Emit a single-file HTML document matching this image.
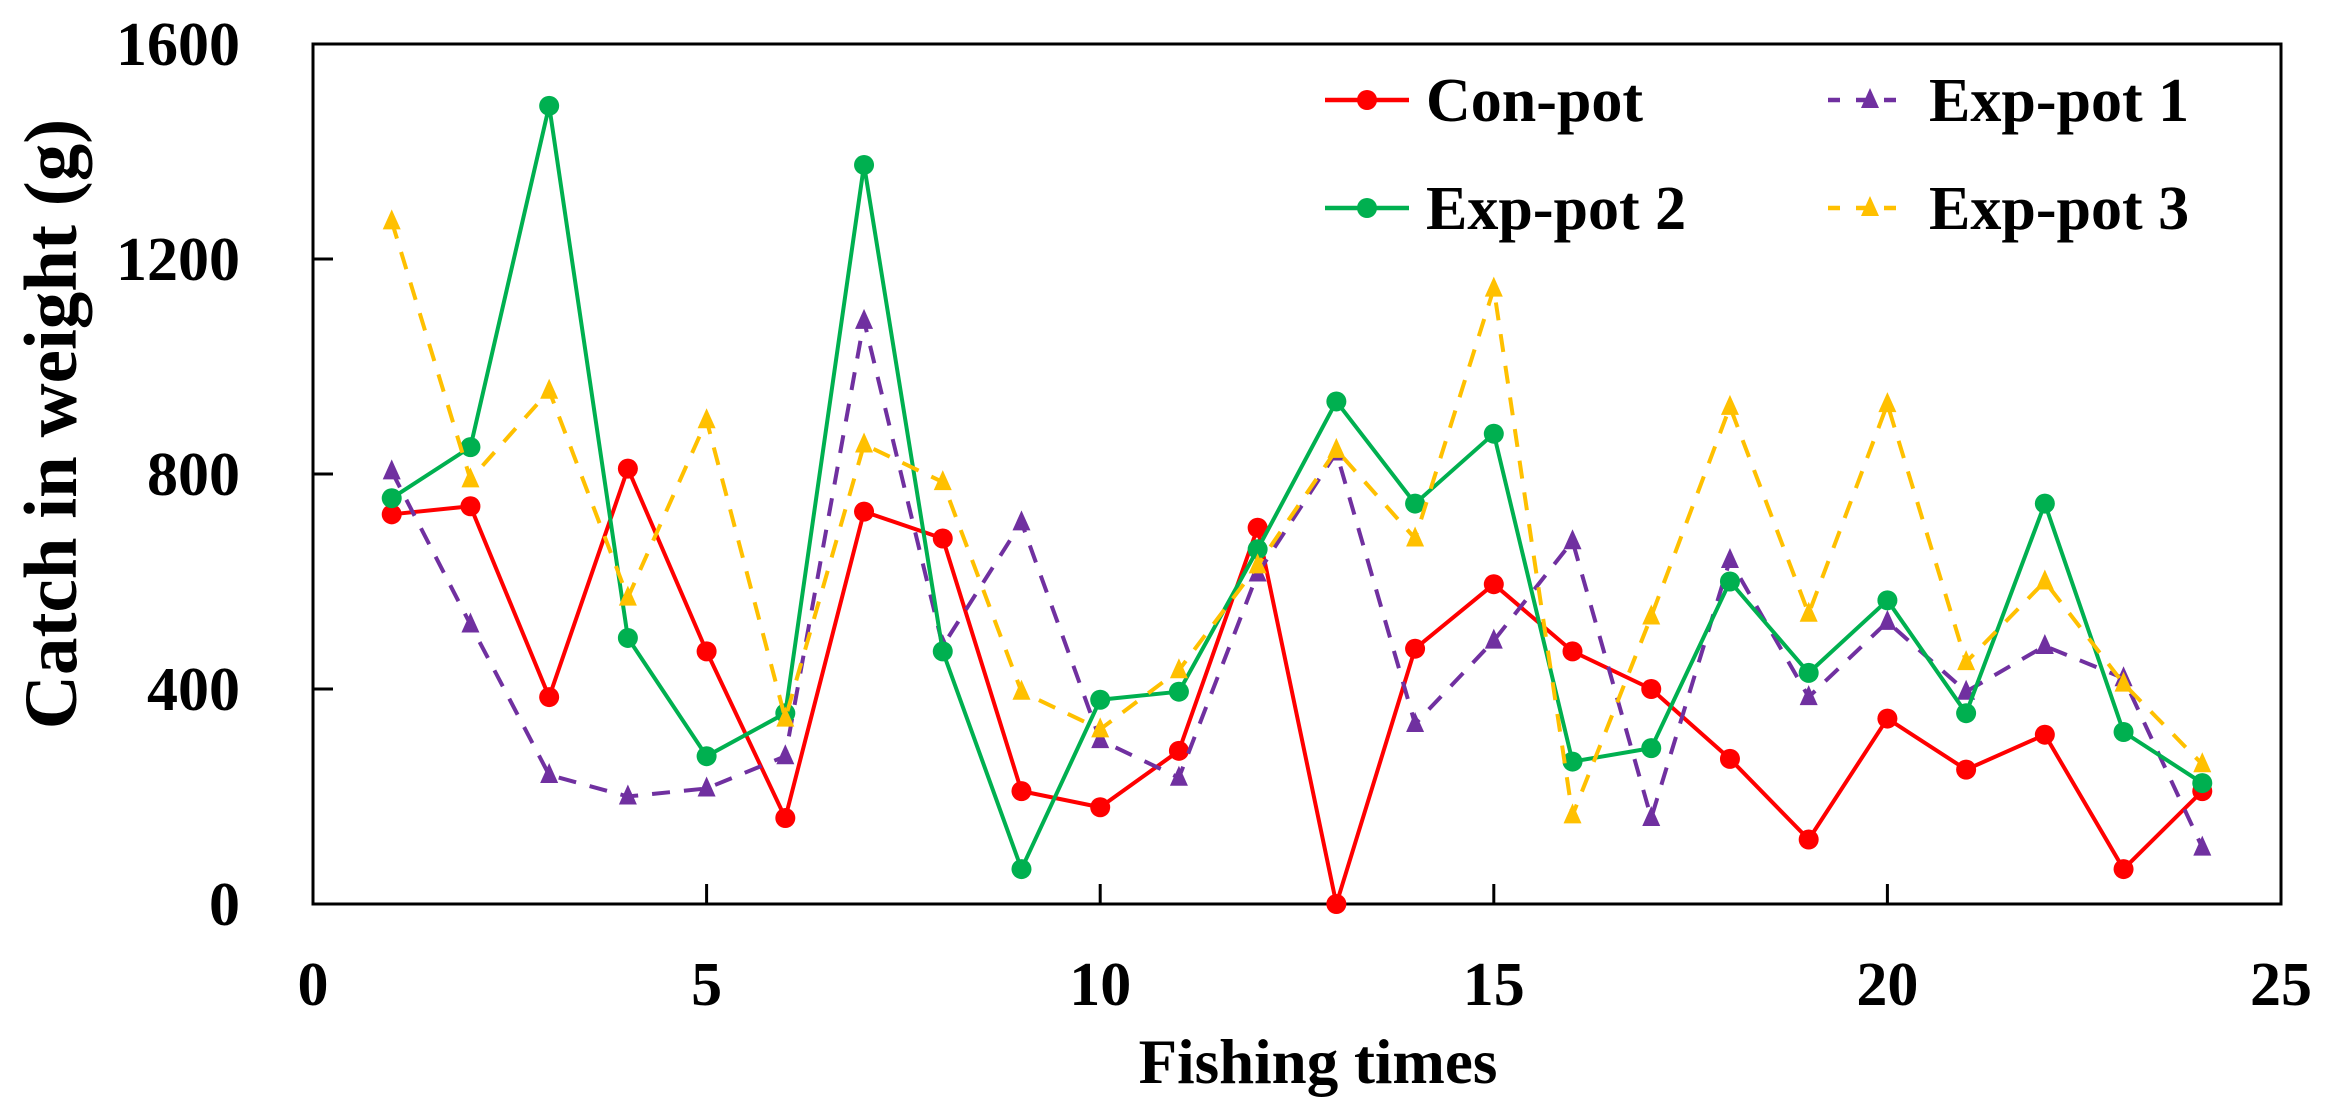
<!DOCTYPE html>
<html><head><meta charset="utf-8"><style>
html,body{margin:0;padding:0;background:#fff;}
svg{display:block;font-family:"Liberation Serif",serif;font-weight:bold;}
</style></head><body>
<svg id="chart" width="2327" height="1113" viewBox="0 0 2327 1113" xmlns="http://www.w3.org/2000/svg">
<g id="axes"></g>
<g id="series"></g>
<g id="legend"></g>
<text x="0" y="0" transform="translate(76,424) rotate(-90)" text-anchor="middle" font-size="75" fill="#000">Catch in weight (g)</text>
<text x="1318" y="1083" text-anchor="middle" font-size="63" fill="#000">Fishing times</text>
</svg>
<script>
const fishingTimes = [1,2,3,4,5,6,7,8,9,10,11,12,13,14,15,16,17,18,19,20,21,22,23,24];
const conPot  = [725,740,385,810,470,160,730,680,210,180,285,700,0,475,595,470,400,270,120,345,250,315,65,210];
const expPot1 = [805,520,240,200,215,275,1085,480,710,305,235,615,840,335,490,675,160,640,385,525,395,480,420,105];
const expPot2 = [755,850,1485,495,275,355,1375,470,65,380,395,660,935,745,875,265,290,600,430,565,355,745,320,225];
const expPot3 = [1270,790,955,570,900,345,855,785,395,325,435,630,845,680,1145,165,535,925,540,930,450,600,410,260];
const xTicks = [0,5,10,15,20,25];
const yTicks = [0,400,800,1200,1600];
const seriesNames = ["Con-pot","Exp-pot 1","Exp-pot 2","Exp-pot 3"];

const NS="http://www.w3.org/2000/svg";
const L=313,R=2281,T=44,B=904;
const xs=v=>L+(v-0)/(25-0)*(R-L);
const ys=v=>B-(v-0)/(1600-0)*(B-T);
function mk(tag,attrs,parent){const e=document.createElementNS(NS,tag);for(const k in attrs)e.setAttribute(k,attrs[k]);parent.appendChild(e);return e;}
const axes=document.getElementById('axes');
let frame=mk('rect',{x:L,y:T,width:R-L,height:B-T,fill:'none',stroke:'#000','stroke-width':3},axes);


xTicks.forEach(t=>{
  const x=xs(t);
  if(t>0&&t<25){const tk=mk('line',{x1:x,x2:x,y1:B,y2:B-20,stroke:'#000','stroke-width':3},axes);
  
  }
  const lb=mk('text',{x:x,y:1005,'text-anchor':'middle','font-size':62,fill:'#000'},axes);
  lb.textContent=t;
  
  
});
yTicks.forEach(t=>{
  const y=ys(t);
  if(t>0&&t<1600){const tk=mk('line',{x1:L,x2:L+20,y1:y,y2:y,stroke:'#000','stroke-width':3},axes);
  
  }
  const lb=mk('text',{x:240,y:y+21,'text-anchor':'end','font-size':62,fill:'#000'},axes);
  lb.textContent=t;
  
  
});
const styles=[
 {data:conPot,color:'#ff0000',dash:null,marker:'circle',name:'con-pot'},
 {data:expPot1,color:'#7030a0',dash:'18 14',marker:'tri',name:'exp-pot-1'},
 {data:expPot2,color:'#00b050',dash:null,marker:'circle',name:'exp-pot-2'},
 {data:expPot3,color:'#ffc000',dash:'18 14',marker:'tri',name:'exp-pot-3'}
];
const sg=document.getElementById('series');
function marker(type,x,y,color,parent){
  if(type==='circle') return mk('circle',{cx:x,cy:y,r:10,fill:color},parent);
  return mk('polygon',{points:`${x},${y-12} ${x-9},${y+8} ${x+9},${y+8}`,fill:color},parent);
}
styles.forEach(s=>{
  const g=mk('g',{},sg);
  
  
  const pts=s.data.map((v,i)=>xs(fishingTimes[i])+','+ys(v)).join(' ');
  const pl=mk('polyline',{points:pts,fill:'none',stroke:s.color,'stroke-width':4,'stroke-linejoin':'round'},g);
  if(s.dash)pl.setAttribute('stroke-dasharray',s.dash);
  
  
  s.data.forEach((v,i)=>{
    const m=marker(s.marker,xs(fishingTimes[i]),ys(v),s.color,g);
    
    
  });
});
const lg=document.getElementById('legend');
const lpos=[[1325,100],[1828,100],[1325,208],[1828,208]];
styles.forEach((s,i)=>{
  const [x,y]=lpos[i];
  const g=mk('g',{},lg);
  
  
  const ln=mk('line',{x1:x,x2:x+84,y1:y,y2:y,stroke:s.color,'stroke-width':4.5},g);
  if(s.dash)ln.setAttribute('stroke-dasharray','12 16');
  marker(s.marker,x+42,y,s.color,g);
  const t=mk('text',{x:x+101,y:y+21,'font-size':62,fill:'#000'},g);
  t.textContent=seriesNames[i];
});
</script>
</body></html>
